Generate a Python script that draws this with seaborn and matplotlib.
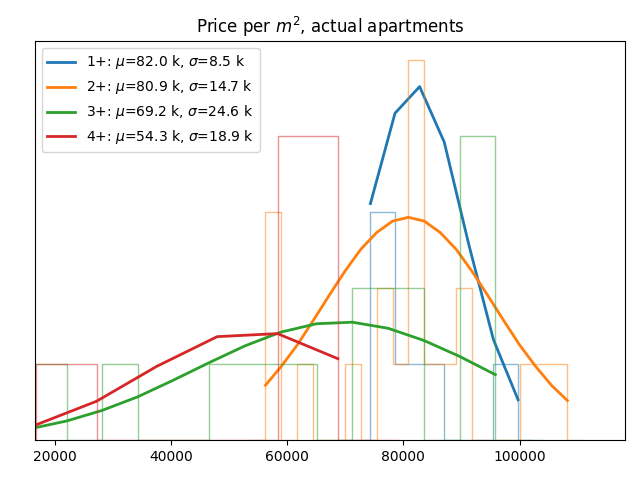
import numpy as np
import pandas as pd
import matplotlib
matplotlib.use("Agg")
import matplotlib.pyplot as plt
import seaborn as sns

# bin edges, counts per bin and the fitted curve (read at the bin edges)
EDGES_1 = [74330, 78565, 82800, 87035, 91270, 95506, 99741]
COUNTS_1 = [3, 1, 1, 0, 0, 1]
CURVE_1 = [3.11, 4.30, 4.65, 3.92, 2.57, 1.32, 0.53]

EDGES_2 = [56266, 59000, 61735, 64470, 67204, 69938, 72673, 75408, 78142, 80876,
           83611, 86346, 89080, 91814, 94549, 97284, 100018, 102752, 105487, 108222]
COUNTS_2 = [3, 0, 1, 0, 0, 1, 0, 2, 1, 5, 1, 1, 2, 0, 0, 0, 1, 1, 1]
CURVE_2 = [0.72, 0.97, 1.25, 1.57, 1.90, 2.22, 2.51, 2.73, 2.88, 2.93,
           2.88, 2.73, 2.51, 2.22, 1.90, 1.57, 1.25, 0.97, 0.72, 0.52]

EDGES_3 = [15880, 22030, 28180, 34330, 40480, 46630, 52780, 58930, 65080, 71230,
           77380, 83530, 89680, 95830]
COUNTS_3 = [1, 0, 1, 0, 0, 1, 1, 1, 0, 2, 2, 0, 4]
CURVE_3 = [0.15, 0.25, 0.39, 0.57, 0.79, 1.02, 1.24, 1.42, 1.53, 1.55, 1.47, 1.31, 1.10, 0.86]

EDGES_4 = [16809, 27192, 37575, 47958, 58341, 68724]
COUNTS_4 = [1, 0, 0, 0, 4]
CURVE_4 = [0.20, 0.51, 0.97, 1.36, 1.40, 1.07]

LABELS = ['1+: $\\mu$=82.0 k, $\\sigma$=8.5 k',
          '2+: $\\mu$=80.9 k, $\\sigma$=14.7 k',
          '3+: $\\mu$=69.2 k, $\\sigma$=24.6 k',
          '4+: $\\mu$=54.3 k, $\\sigma$=18.9 k']
COLORS = ['tab:blue', 'tab:orange', 'tab:green', 'tab:red']

groups = [(EDGES_1, COUNTS_1, CURVE_1), (EDGES_2, COUNTS_2, CURVE_2),
          (EDGES_3, COUNTS_3, CURVE_3), (EDGES_4, COUNTS_4, CURVE_4)]

fig, ax = plt.subplots(figsize=(6.4, 4.8), dpi=100)

for (edges, counts, curve), label, color in zip(groups, LABELS, COLORS):
    w = edges[1] - edges[0]
    # empty bin on each side so the outline drops to the baseline at both ends
    bins = [edges[0] - w] + list(edges) + [edges[-1] + w]
    n = [0] + list(counts) + [0]
    b = np.array(bins, dtype=float)
    df = pd.DataFrame({'price': (b[:-1] + b[1:]) / 2, 'n': n})
    sns.histplot(data=df, x='price', weights='n', bins=bins, element='step',
                 fill=False, color=color, alpha=0.5, linewidth=1, ax=ax)
    ax.plot(edges, curve, color=color, label=label, linewidth=2)

ax.set_xlim(16550, 118150)
ax.set_ylim(0, 5.25)
ax.set_yticks([])
ax.set_xlabel('')
ax.set_ylabel('')
ax.set_title('Price per $m^2$, actual apartments')
ax.legend(loc='upper left')
fig.subplots_adjust(left=0.0542, right=0.9766, bottom=0.0833, top=0.9146)
plt.savefig('out.png', dpi=100)
